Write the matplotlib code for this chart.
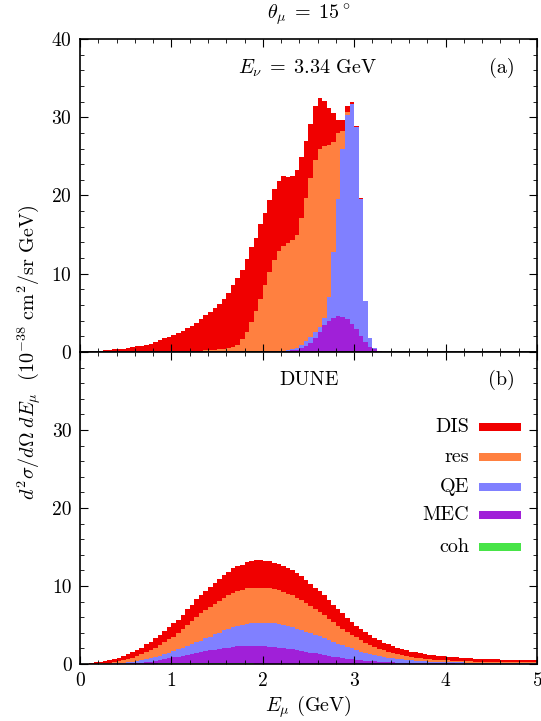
import numpy as np
import matplotlib.pyplot as plt
from matplotlib.patches import Rectangle
from matplotlib.ticker import MultipleLocator

plt.rcParams['font.family'] = 'serif'
plt.rcParams['font.serif'] = ['cmr10']
plt.rcParams['mathtext.fontset'] = 'cm'
plt.rcParams['axes.formatter.use_mathtext'] = True
plt.rcParams['font.size'] = 14

# ------------------------------------------------------------------
# Data: stacked heights (top of each layer) per 0.05 GeV bin, 0..5 GeV
# layer order from top: DIS, res, QE, MEC, coh
# ------------------------------------------------------------------
edges = np.arange(101) * 0.05

# (a) E_nu = 3.34 GeV
top_dis_a = [0.0, 0.03, 0.08, 0.12, 0.17, 0.22, 0.27, 0.32, 0.37, 0.43,
             0.52, 0.62, 0.72, 0.83, 0.95, 1.08, 1.28, 1.52, 1.78, 1.98,
             2.2, 2.47, 2.72, 3.05, 3.36, 3.7, 4.2, 4.7, 5.05, 5.6,
             6.1, 6.8, 7.5, 8.5, 9.4, 10.5, 11.9, 13.4, 14.6, 16.3,
             17.8, 19.4, 20.8, 21.9, 22.5, 22.4, 22.5, 23.3, 24.9, 27.0,
             29.2, 31.4, 32.5, 32.1, 31.2, 30.6, 29.7, 29.7, 31.4, 32.0,
             28.9, 19.7, 6.5, 1.8, 0.5, 0.15] + [0.0] * 34
top_res_a = [0.0, 0.02, 0.05, 0.11, 0.11, 0.11, 0.11, 0.11, 0.11, 0.11,
             0.11, 0.11, 0.11, 0.11, 0.11, 0.11, 0.11, 0.11, 0.11, 0.11,
             0.11, 0.11, 0.12, 0.14, 0.14, 0.14, 0.16, 0.2, 0.25, 0.3,
             0.35, 0.4, 0.5, 0.6, 0.9, 1.7, 2.6, 3.8, 5.2, 6.8,
             8.5, 10.2, 11.8, 12.9, 13.6, 13.9, 14.3, 15.0, 17.1, 19.7,
             22.2, 24.5, 26.0, 26.3, 26.5, 26.9, 28.0, 28.3, 30.7, 31.7,
             28.8, 19.6, 6.5, 1.8, 0.5, 0.15] + [0.0] * 34
top_qe_a = [0.0, 0.02, 0.05, 0.1, 0.1, 0.1, 0.1, 0.1, 0.1, 0.1,
            0.1, 0.1, 0.1, 0.1, 0.1, 0.1, 0.1, 0.1, 0.1, 0.1,
            0.1, 0.1, 0.1, 0.1, 0.1, 0.1, 0.1, 0.1, 0.1, 0.1,
            0.1, 0.1, 0.1, 0.1, 0.1, 0.12, 0.12, 0.12, 0.12, 0.12,
            0.12, 0.12, 0.12, 0.12, 0.15, 0.25, 0.35, 0.5, 0.9, 1.4,
            1.9, 2.6, 3.2, 4.3, 7.0, 12.8, 19.6, 26.0, 30.3, 31.7,
            28.8, 19.6, 6.5, 1.8, 0.5, 0.15] + [0.0] * 34
top_mec_a = [0.0, 0.0, 0.02, 0.04, 0.04, 0.04, 0.04, 0.04, 0.04, 0.04,
             0.04, 0.04, 0.04, 0.04, 0.04, 0.04, 0.04, 0.04, 0.04, 0.04,
             0.04, 0.04, 0.04, 0.04, 0.04, 0.04, 0.04, 0.04, 0.04, 0.04,
             0.04, 0.04, 0.04, 0.04, 0.04, 0.04, 0.1, 0.1, 0.1, 0.04,
             0.04, 0.04, 0.05, 0.06, 0.08, 0.15, 0.2, 0.3, 0.5, 0.8,
             1.2, 1.8, 2.5, 3.4, 4.0, 4.4, 4.6, 4.5, 4.2, 3.6,
             2.9, 2.0, 1.3, 0.7, 0.4, 0.1] + [0.0] * 34
top_coh_a = [0.0] * 36 + [0.1, 0.1, 0.1] + [0.0] * 61

# (b) DUNE flux
top_dis_b = [0.0, 0.05, 0.13, 0.2, 0.3, 0.4, 0.47, 0.6, 0.77, 1.0,
             1.23, 1.5, 1.8, 2.1, 2.5, 2.85, 3.3, 3.7, 4.2, 4.7,
             5.2, 5.7, 6.3, 7.0, 7.6, 8.3, 8.8, 9.3, 9.9, 10.4,
             10.9, 11.4, 11.8, 12.3, 12.6, 12.7, 13.1, 13.2, 13.3, 13.3,
             13.25, 13.15, 13.0, 12.8, 12.6, 12.3, 12.0, 11.7, 11.3, 10.8,
             10.3, 9.8, 9.3, 8.8, 8.2, 7.6, 7.0, 6.5, 5.9, 5.4,
             4.9, 4.5, 4.1, 3.7, 3.35, 3.05, 2.75, 2.5, 2.25, 2.05,
             1.9, 1.75, 1.6, 1.5, 1.4, 1.3, 1.2, 1.12, 1.05, 1.0,
             0.95, 0.9, 0.85, 0.8, 0.76, 0.72, 0.7, 0.67, 0.65, 0.62,
             0.6, 0.58, 0.56, 0.55, 0.53, 0.52, 0.5, 0.5, 0.48, 0.47]
top_res_b = [0.0, 0.02, 0.04, 0.06, 0.08, 0.12, 0.17, 0.25, 0.35, 0.47,
             0.64, 0.8, 1.0, 1.23, 1.5, 1.8, 2.1, 2.4, 2.8, 3.15,
             3.5, 4.0, 4.5, 5.0, 5.5, 6.0, 6.5, 6.9, 7.3, 7.7,
             8.1, 8.5, 8.8, 9.1, 9.4, 9.5, 9.7, 9.75, 9.8, 9.8,
             9.8, 9.7, 9.6, 9.45, 9.25, 9.0, 8.8, 8.5, 8.2, 7.85,
             7.45, 7.05, 6.65, 6.25, 5.8, 5.35, 4.9, 4.5, 4.1, 3.75,
             3.4, 3.05, 2.75, 2.45, 2.2, 1.95, 1.75, 1.55, 1.4, 1.25,
             1.1, 1.0, 0.9, 0.82, 0.75, 0.68, 0.62, 0.57, 0.52, 0.48,
             0.45, 0.42, 0.4, 0.38, 0.36, 0.34, 0.32, 0.31, 0.3, 0.29,
             0.28, 0.27, 0.26, 0.25, 0.24, 0.23, 0.22, 0.22, 0.21, 0.2]
top_qe_b = [0.0, 0.0, 0.01, 0.02, 0.03, 0.04, 0.05, 0.08, 0.13, 0.16,
            0.2, 0.28, 0.38, 0.48, 0.6, 0.75, 0.9, 1.08, 1.28, 1.47,
            1.66, 1.87, 2.1, 2.3, 2.55, 2.8, 3.0, 3.3, 3.5, 3.8,
            4.0, 4.3, 4.5, 4.7, 4.9, 5.0, 5.1, 5.2, 5.3, 5.3,
            5.3, 5.25, 5.2, 5.1, 5.0, 4.85, 4.7, 4.55, 4.35, 4.15,
            3.95, 3.75, 3.55, 3.35, 3.1, 2.85, 2.6, 2.4, 2.2, 2.0,
            1.8, 1.6, 1.45, 1.3, 1.15, 1.0, 0.9, 0.8, 0.72, 0.65,
            0.58, 0.52, 0.47, 0.42, 0.38, 0.35, 0.32, 0.3, 0.28, 0.26,
            0.24, 0.22, 0.21, 0.2, 0.19, 0.18, 0.17, 0.16, 0.15, 0.15,
            0.14, 0.13, 0.13, 0.12, 0.12, 0.11, 0.11, 0.1, 0.1, 0.1]
top_mec_b = [0.0, 0.0, 0.0, 0.0, 0.01, 0.01, 0.02, 0.03, 0.04, 0.05,
             0.06, 0.09, 0.13, 0.16, 0.2, 0.28, 0.38, 0.48, 0.6, 0.72,
             0.85, 0.95, 1.06, 1.18, 1.3, 1.4, 1.5, 1.62, 1.75, 1.85,
             1.95, 2.03, 2.1, 2.18, 2.25, 2.3, 2.35, 2.35, 2.35, 2.3,
             2.25, 2.2, 2.15, 2.1, 2.05, 1.98, 1.9, 1.8, 1.65, 1.55,
             1.45, 1.35, 1.25, 1.15, 1.05, 0.95, 0.85, 0.76, 0.68, 0.6,
             0.53, 0.47, 0.42, 0.37, 0.33, 0.29, 0.26, 0.23, 0.21, 0.19,
             0.17, 0.15, 0.14, 0.13, 0.12, 0.11, 0.1, 0.09, 0.08, 0.08,
             0.07, 0.07, 0.06, 0.06, 0.06, 0.05, 0.05, 0.05, 0.05, 0.04,
             0.04, 0.04, 0.04, 0.04, 0.03, 0.03, 0.03, 0.03, 0.03, 0.03]
top_coh_b = [0.0] * 17 + [0.07] * 21 + [0.0] * 62

labels = ['DIS', 'res', 'QE', 'MEC', 'coh']
colors = ['#f00000', '#ff8040', '#8080ff', '#a020d8', '#48e448']

# ------------------------------------------------------------------
fig = plt.figure(figsize=(5.41, 7.21), dpi=100)
ax_a = fig.add_axes([0.14787, 0.51179, 0.84473, 0.43412])
ax_b = fig.add_axes([0.14787, 0.07906, 0.84473, 0.43273])

panels = [
    (ax_a, [top_dis_a, top_res_a, top_qe_a, top_mec_a, top_coh_a]),
    (ax_b, [top_dis_b, top_res_b, top_qe_b, top_mec_b, top_coh_b]),
]
for ax, tops in panels:
    for vals, col in zip(tops, colors):
        ax.stairs(vals, edges, fill=True, color=col, linewidth=0)
    ax.set_xlim(0, 5)
    ax.set_ylim(0, 40)
    ax.xaxis.set_major_locator(MultipleLocator(1))
    ax.xaxis.set_minor_locator(MultipleLocator(0.2))
    ax.yaxis.set_major_locator(MultipleLocator(10))
    ax.yaxis.set_minor_locator(MultipleLocator(2))
    ax.tick_params(which='both', direction='in', top=True, right=True,
                   labelsize=14)
    ax.tick_params(which='major', length=6, width=0.8, pad=6)
    ax.tick_params(which='minor', length=3, width=0.6)
    for sp in ax.spines.values():
        sp.set_linewidth(1.2)

ax_a.tick_params(labelbottom=False)
ax_b.set_yticks([0, 10, 20, 30, 40])
ax_b.set_yticklabels(['0', '10', '20', '30', ''])

ax_a.text(0.498, 0.907, r'$E_\nu\;=\;3.34\ \mathrm{GeV}$', transform=ax_a.transAxes,
          ha='center', va='center', fontsize=14.5)
ax_a.text(0.923, 0.907, '(a)', transform=ax_a.transAxes,
          ha='center', va='center', fontsize=14.5)
ax_b.text(0.501, 0.910, 'DUNE', transform=ax_b.transAxes,
          ha='center', va='center', fontsize=14.5)
ax_b.text(0.923, 0.910, '(b)', transform=ax_b.transAxes,
          ha='center', va='center', fontsize=14.5)

# legend (label left of colour bar)
rows_y = [0.760, 0.663, 0.567, 0.478, 0.375]
for lab, col, yy in zip(labels, colors, rows_y):
    ax_b.text(0.851, yy, lab, transform=ax_b.transAxes,
              ha='right', va='center', fontsize=14.5)
    ax_b.add_patch(Rectangle((0.873, yy - 0.013), 0.092, 0.026,
                             transform=ax_b.transAxes, color=col, lw=0))

fig.text(308.5 / 541, 1 - 15 / 721, r'$\theta_\mu\;=\;15^\circ$',
         ha='center', va='center', fontsize=14.5)
fig.text(308.5 / 541, 1 - 707 / 721, r'$E_\mu$ (GeV)',
         ha='center', va='center', fontsize=14.5)
fig.text(30 / 541, 1 - 352 / 721,
         r'$d^2\sigma/d\Omega\;dE_\mu\ \ (10^{-38}\ \mathrm{cm}^2/\mathrm{sr\ GeV})$',
         rotation=90, ha='center', va='center', fontsize=14.5)

plt.savefig('out.png', dpi=100)
